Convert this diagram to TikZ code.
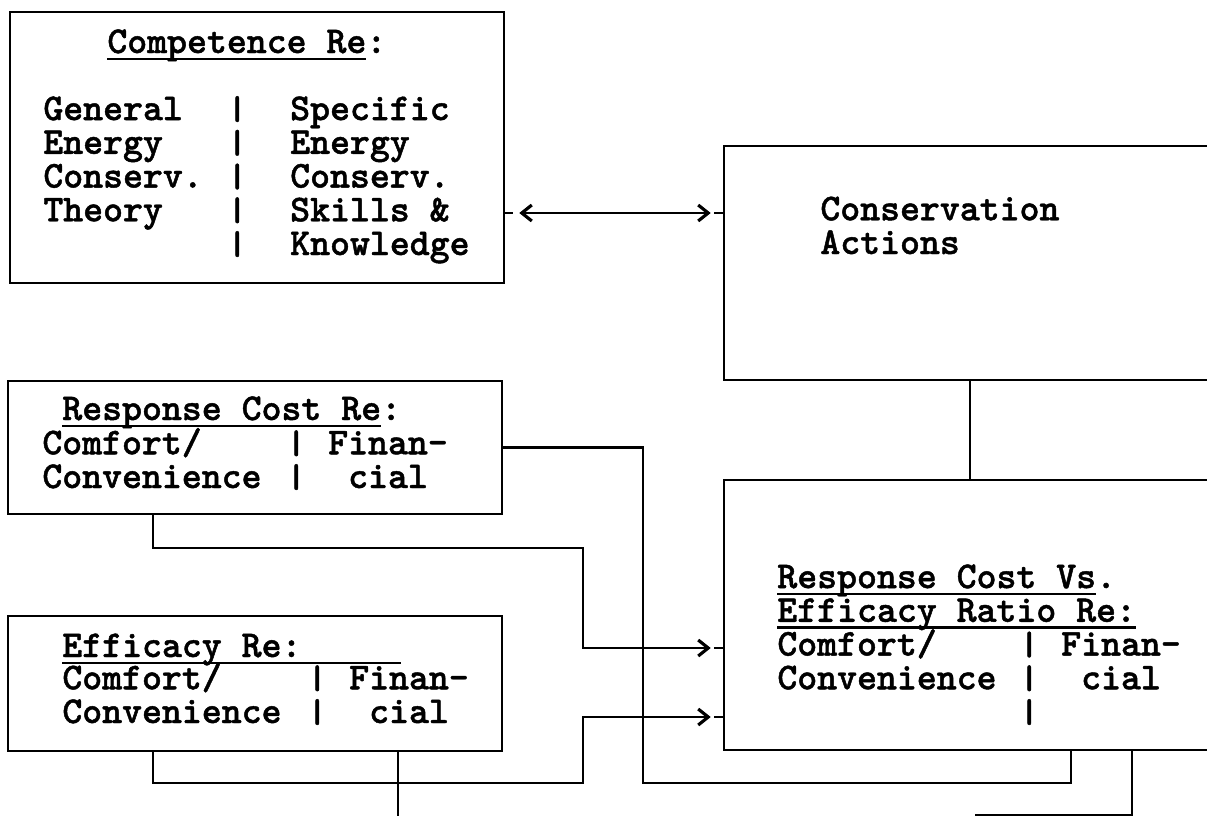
\documentclass[tikz,border=0pt]{standalone}
\usepackage{fontspec}
\newfontfamily\typer{lmmonolt10-bold.otf}[FakeBold=1.2]
\usepackage{tikz}
\usetikzlibrary{arrows.meta, calc, positioning}

\newcommand{\undl}[1]{\setbox0\hbox{#1}\rlap{\rule[-0.145cm]{\wd0}{0.055cm}}\box0}
\newcommand{\vbar}{\raisebox{0.02em}{\scalebox{1}[0.88]{|}}}
\setlength{\lineskiplimit}{-10cm}

\begin{document}
\begin{tikzpicture}[x=0.02cm, y=-0.02cm, >={Straight Barb[length=0.2cm, width=0.32cm, line width=1.8pt]},
    box/.style={draw, line width=1.5pt, inner sep=0pt},
    txt/.style={anchor=base west, inner sep=0pt, align=left,
      font=\typer\fontsize{21.6pt}{19.2pt}\selectfont},
    conn/.style={line width=1.5pt}]
    \useasboundingbox (0,0) rectangle (1207,815);

    % Boxes
    \node[box, minimum width=9.88cm, minimum height=5.42cm] (comp) at (257,147.5) {};
    \node[box, minimum width=9.84cm, minimum height=4.68cm] (act) at (970,263) {};
    \node[box, minimum width=9.88cm, minimum height=2.66cm] (cost) at (255,447.5) {};
    \node[box, minimum width=9.88cm, minimum height=2.70cm] (eff) at (255,683.5) {};
    \node[box, minimum width=9.84cm, minimum height=5.4cm] (ratio) at (970,615) {};

    % Texts (anchored at the baseline of their last line)
    \node[txt] (comptitle) at (107,53) {\undl{Competence Re}:};
    \node[txt] (comptext) at (43,255) {%
      \makebox[3.68cm][l]{General}\vbar\hspace{0.86cm}Specific\\
      \makebox[3.68cm][l]{Energy}\vbar\hspace{0.86cm}Energy\\
      \makebox[3.68cm][l]{Conserv.}\vbar\hspace{0.86cm}Conserv.\\
      \makebox[3.68cm][l]{Theory}\vbar\hspace{0.86cm}Skills \&\\
      \makebox[3.68cm][l]{}\vbar\hspace{0.86cm}Knowledge};
    \node[txt] (acttext) at (820,254) {Conservation\\ Actions};
    \node[txt] (costtitle) at (62,420) {\undl{Response Cost Re}:};
    \node[txt] (costtext) at (42,488) {%
      \makebox[4.88cm][l]{Comfort/}\vbar\hspace{0.44cm}Finan-\\
      \makebox[4.88cm][l]{Convenience}\vbar\hspace{0.44cm}\ cial};
    \node[txt] (efftitle) at (62,657) {\undl{Efficacy Re:\ \ \ \ \ }};
    \node[txt] (efftext) at (62,723) {%
      \makebox[4.9cm][l]{Comfort/}\vbar\hspace{0.44cm}Finan-\\
      \makebox[4.9cm][l]{Convenience}\vbar\hspace{0.44cm}\ cial};
    \node[txt] (ratiotext) at (777,723) {%
      \undl{Response Cost Vs}.\\
      \undl{Efficacy Ratio Re:}\\
      \makebox[4.84cm][l]{Comfort/}\vbar\hspace{0.44cm}Finan-\\
      \makebox[4.84cm][l]{Convenience}\vbar\hspace{0.44cm}\ cial\\
      \makebox[4.84cm][l]{}\vbar};

    % Connectors
    \coordinate (compout) at ($(comp.east)+(0,65.5)$);
    \draw[conn, <->, shorten <=0.28cm, shorten >=0.24cm] (compout) -- (compout -| act.west);
    \draw[conn] (compout) -- ++(8,0);
    \draw[conn] (compout -| act.west) -- ++(-9,0);
    \draw[conn] (act) -- (ratio);

    \coordinate (ratioin1) at ($(ratio.west)+(0,33)$);
    \coordinate (ratioin2) at ($(ratio.west)+(0,102)$);
    \draw[conn, ->, shorten >=0.24cm] ($(cost.south)+(-102,0)$) |- (583,548) |- (ratioin1);
    \draw[conn, ->, shorten >=0.24cm] ($(eff.south)+(-102,0)$) |- (583,783) |- (ratioin2);
    \draw[conn] (ratioin1) -- ++(-9,0);
    \draw[conn] (ratioin2) -- ++(-9,0);
    \draw[conn] (cost.east) -| (643,783) -| ($(ratio.south)+(101,0)$);

    \coordinate (effout) at (398,830);
    \draw[conn] ($(eff.south)+(143,0)$) -- (effout);
    \coordinate (ratioout) at (975,815.5);
    \draw[conn] ($(ratio.south)+(162,0)$) |- (ratioout);
\end{tikzpicture}
\end{document}
